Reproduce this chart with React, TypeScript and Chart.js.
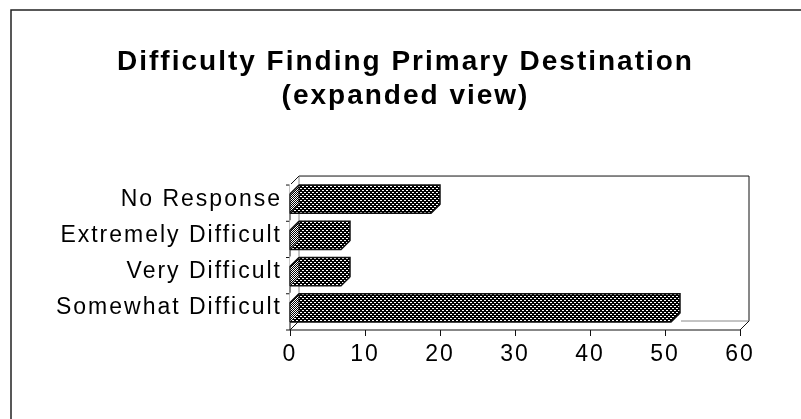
import React, { useEffect, useRef } from "react";
import { Chart, registerables } from "chart.js";

Chart.register(...registerables);

const categories = ["No Response", "Extremely Difficult", "Very Difficult", "Somewhat Difficult"];
const values = [20, 8, 8, 52];
const xMin = 0;
const xMax = 60;
const xStep = 10;
const titleLines = ["Difficulty Finding Primary Destination", "(expanded view)"];

const FONT = "'Liberation Sans', Arial, Helvetica, sans-serif";

function makePattern(whiteCells: number[][], size: number, base: string): CanvasPattern | string {
  const c = document.createElement("canvas");
  c.width = size;
  c.height = size;
  const g = c.getContext("2d");
  if (!g) return base;
  g.fillStyle = base;
  g.fillRect(0, 0, size, size);
  g.fillStyle = "#fff";
  whiteCells.forEach(([x, y]) => g.fillRect(x, y, 1, 1));
  const p = g.createPattern(c, "repeat");
  return p || base;
}

const DX = 9;
const DY = 9;
const FRONT = 4;

const frame3d = {
  id: "frame3d",
  beforeDraw(chart: any) {
    const ctx = chart.ctx as CanvasRenderingContext2D;
    ctx.save();
    ctx.strokeStyle = "#222";
    ctx.lineWidth = 1.5;
    ctx.beginPath();
    ctx.moveTo(11, 419);
    ctx.lineTo(11, 10);
    ctx.lineTo(801, 10);
    ctx.stroke();
    ctx.restore();
    (ctx as any).letterSpacing = "2px";
  },
  beforeDatasetsDraw(chart: any) {
    const ctx = chart.ctx as CanvasRenderingContext2D;
    const { left, right, top, bottom } = chart.chartArea;
    const xs = chart.scales.x;
    const ys = chart.scales.y;
    const fTop = top + FRONT;
    const fBot = bottom + FRONT;
    const bTop = fTop - DY;
    const bBot = fBot - DY;
    ctx.save();
    ctx.strokeStyle = "#111";
    ctx.lineWidth = 1;
    ctx.beginPath();
    ctx.moveTo(left + DX, bTop);
    ctx.lineTo(right + DX, bTop);
    ctx.lineTo(right + DX, bBot);
    ctx.stroke();
    ctx.strokeStyle = "#888";
    ctx.beginPath();
    ctx.moveTo(left + DX, bBot);
    ctx.lineTo(right + DX, bBot);
    ctx.moveTo(left + DX, bTop);
    ctx.lineTo(left + DX, bBot);
    ctx.stroke();
    ctx.strokeStyle = "#111";
    ctx.beginPath();
    ctx.moveTo(left, fTop);
    ctx.lineTo(left, fBot);
    ctx.lineTo(right, fBot);
    ctx.lineTo(right + DX, bBot);
    ctx.moveTo(left, fTop);
    ctx.lineTo(left + DX, bTop);
    ctx.moveTo(left, fBot);
    ctx.lineTo(left + DX, bBot);
    ctx.stroke();
    ctx.beginPath();
    xs.ticks.forEach((t: any) => {
      const px = Math.round(xs.getPixelForValue(t.value)) + 0.5;
      ctx.moveTo(px, fBot);
      ctx.lineTo(px, fBot + 6);
    });
    const slot = ys.getPixelForValue(1) - ys.getPixelForValue(0);
    for (let i = 0; i <= categories.length; i++) {
      const py = ys.getPixelForValue(i) - slot / 2 + FRONT;
      ctx.moveTo(left - 4, py);
      ctx.lineTo(left, py);
    }
    ctx.stroke();
    ctx.restore();
  },
  afterDatasetsDraw(chart: any) {
    const ctx = chart.ctx as CanvasRenderingContext2D;
    const light = (chart as any).$lightPattern;
    const meta = chart.getDatasetMeta(0);
    ctx.save();
    meta.data.forEach((el: any) => {
      const { x, y, base, height } = el.getProps(["x", "y", "base", "height"], true);
      const x0 = base;
      const x1 = x;
      const yT = y - height / 2;
      const yB = y + height / 2;
      const d = Math.min(DX, (x1 - x0) / 2);
      ctx.fillStyle = "#fff";
      ctx.beginPath();
      ctx.moveTo(x1 + 1, yB - d);
      ctx.lineTo(x1 + 1, yB + 1);
      ctx.lineTo(x1 - d - 1, yB + 1);
      ctx.closePath();
      ctx.fill();
      ctx.beginPath();
      ctx.moveTo(x0 - 0.5, yT - 1);
      ctx.lineTo(x0 + d, yT - 1);
      ctx.lineTo(x0 + d, yT);
      ctx.lineTo(x0 - 0.5, yT + d);
      ctx.closePath();
      ctx.fill();
      ctx.fillStyle = light;
      ctx.beginPath();
      ctx.moveTo(x0, yT + d);
      ctx.lineTo(x0 + d, yT);
      ctx.lineTo(x0 + d, yB - d);
      ctx.lineTo(x0, yB);
      ctx.closePath();
      ctx.fill();
      ctx.strokeStyle = "#111";
      ctx.lineWidth = 1;
      ctx.stroke();
      ctx.beginPath();
      ctx.moveTo(x0, yT + d);
      ctx.lineTo(x0 + d, yT);
      ctx.lineTo(x1, yT);
      ctx.lineTo(x1, yB - d);
      ctx.lineTo(x1 - d, yB);
      ctx.lineTo(x0, yB);
      ctx.lineWidth = 1.5;
      ctx.stroke();
    });
    ctx.restore();
  },
  afterDraw(chart: any) {
    (chart.ctx as any).letterSpacing = "0px";
  },
};

export default function App() {
  const ref = useRef<HTMLCanvasElement | null>(null);

  useEffect(() => {
    const canvas = ref.current;
    if (!canvas) return;
    const dark = makePattern([[0, 0], [1, 0], [2, 2], [3, 2]], 4, "#000");
    const light = makePattern([[0, 0], [1, 1], [2, 0], [3, 1], [0, 2], [1, 3], [2, 2], [3, 3]], 4, "#000");
    const chart = new Chart(canvas, {
      type: "bar",
      data: {
        labels: categories,
        datasets: [
          {
            data: values,
            backgroundColor: dark as any,
            borderWidth: 0,
            barPercentage: 0.78,
            categoryPercentage: 1,
          },
        ],
      },
      options: {
        indexAxis: "y",
        responsive: false,
        animation: false,
        layout: { padding: { left: 10, right: 0, top: 0, bottom: 0 } },
        plugins: {
          legend: { display: false },
          tooltip: { enabled: false },
          title: {
            display: true,
            text: titleLines,
            color: "#000",
            font: { family: FONT, size: 28, weight: "bold", lineHeight: 1.215 },
            padding: { top: 45, bottom: 68 },
          },
        },
        scales: {
          x: {
            type: "linear",
            min: xMin,
            max: xMax,
            grid: { display: false, drawTicks: false },
            border: { display: false },
            ticks: {
              stepSize: xStep,
              color: "#000",
              padding: 15,
              font: { family: FONT, size: 23 },
            },
            afterFit: (s: any) => {
              s.height = 93;
            },
          },
          y: {
            type: "category",
            grid: { display: false, drawTicks: false },
            border: { display: false },
            ticks: {
              color: "#000",
              padding: 8,
              font: { family: FONT, size: 23 },
            },
            afterFit: (s: any) => {
              s.width = 290 - 10;
            },
          },
          pad: {
            type: "linear",
            position: "right",
            display: true,
            grid: { display: false, drawTicks: false },
            border: { display: false },
            ticks: { display: false },
            afterFit: (s: any) => {
              s.width = 801 - 740;
            },
          },
        },
      },
      plugins: [frame3d],
    } as any);
    (chart as any).$lightPattern = light;
    chart.draw();
    return () => chart.destroy();
  }, []);

  return (
    <div style={{ position: "absolute", left: 0, top: 0, width: 801, height: 419, background: "#fff" }}>
      <canvas ref={ref} width={801} height={419} style={{ display: "block" }} />
    </div>
  );
}
